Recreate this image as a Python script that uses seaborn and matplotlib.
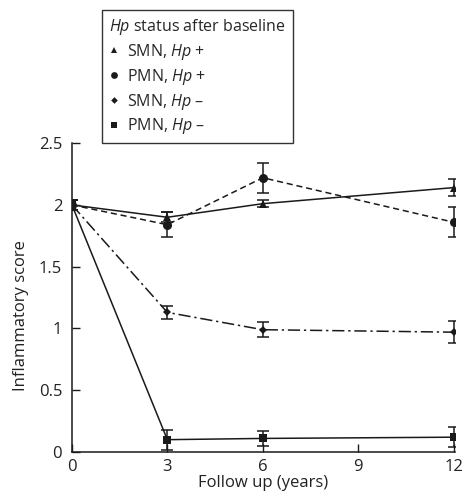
import numpy as np
import pandas as pd
import matplotlib
matplotlib.use("Agg")
import matplotlib.pyplot as plt
import seaborn as sns
from matplotlib.lines import Line2D

# follow-up years and scores
years = [0, 3, 6, 12]

smn_pos = [2.00, 1.90, 2.01, 2.14]
smn_pos_err = [0.04, 0.04, 0.03, 0.07]

pmn_pos = [2.00, 1.84, 2.22, 1.86]
pmn_pos_err = [0.04, 0.10, 0.12, 0.12]

smn_neg = [2.00, 1.13, 0.99, 0.97]
smn_neg_err = [0.04, 0.05, 0.06, 0.09]

pmn_neg = [2.00, 0.10, 0.11, 0.12]
pmn_neg_err = [0.04, 0.08, 0.06, 0.08]

labels = ["SMN, $\\it{Hp}$ +", "PMN, $\\it{Hp}$ +",
          "SMN, $\\it{Hp}$ \u2013", "PMN, $\\it{Hp}$ \u2013"]

sns.set_style("ticks")
plt.rcParams['font.family'] = ['Open Sans', 'DejaVu Sans']
plt.rcParams['mathtext.fontset'] = 'custom'
plt.rcParams['mathtext.it'] = 'Open Sans:italic'
plt.rcParams['mathtext.rm'] = 'Open Sans'

fig = plt.figure(figsize=(4.64, 4.97), dpi=100)
ax = fig.add_axes([0.155, 0.0905, 0.826, 0.6215])

series = [
    (smn_pos, smn_pos_err, '^', '-', 6),
    (pmn_pos, pmn_pos_err, 'o', (0, (4, 2.5)), 6.5),
    (smn_neg, smn_neg_err, 'D', (0, (8, 2.5, 1.5, 2.5)), 4.5),
    (pmn_neg, pmn_neg_err, 's', '-', 6),
]

for (vals, errs, mk, ls, ms), lab in zip(series, labels):
    df = pd.DataFrame({'year': years, 'score': vals})
    sns.lineplot(data=df, x='year', y='score', ax=ax, color='#1a1a1a',
                 marker=mk, markersize=ms, markeredgewidth=0,
                 linestyle=ls, linewidth=1.1, label=lab, legend=False)
    ax.errorbar(years, vals, yerr=errs, fmt='none', ecolor='#1a1a1a',
                elinewidth=1.1, capsize=4, capthick=1.1)

ax.set_xlim(0, 12.05)
ax.set_ylim(0, 2.5)
ax.set_xticks([0, 3, 6, 9, 12])
ax.set_yticks([0, 0.5, 1, 1.5, 2, 2.5])
ax.set_yticklabels(['0', '0.5', '1', '1.5', '2', '2.5'])
ax.tick_params(direction='in', length=6, width=1, labelsize=12, color='#1a1a1a',
               labelcolor='#222222')
ax.tick_params(axis='y', pad=7)
ax.tick_params(axis='x', pad=5)
ax.set_xlabel('Follow up (years)', fontsize=12, color='#222222', labelpad=0)
ax.set_ylabel('Inflammatory score', fontsize=12, color='#222222')
ax.yaxis.set_label_coords(-0.112, 0.443)
for s in ['left', 'bottom']:
    ax.spines[s].set_linewidth(1.1)
    ax.spines[s].set_color('#1a1a1a')
sns.despine(ax=ax)

handles = [Line2D([], [], color='#1a1a1a', marker=m, linestyle='none',
                  markersize=ms * 0.75, markeredgewidth=0)
           for (_, _, m, _, ms) in series]
leg = fig.legend(handles, labels, title='$\\it{Hp}$ status after baseline',
                 loc='upper left', bbox_to_anchor=(0.22, 0.98), borderaxespad=0,
                 fontsize=11.5, title_fontsize=11.5, frameon=True, fancybox=False,
                 handlelength=0.6, handletextpad=0.5, labelspacing=0.3,
                 borderpad=0.45, alignment='left')
leg.get_frame().set_edgecolor('#333333')
leg.get_frame().set_linewidth(1.0)
leg.get_frame().set_alpha(1)

fig.savefig('out.png', dpi=100)
